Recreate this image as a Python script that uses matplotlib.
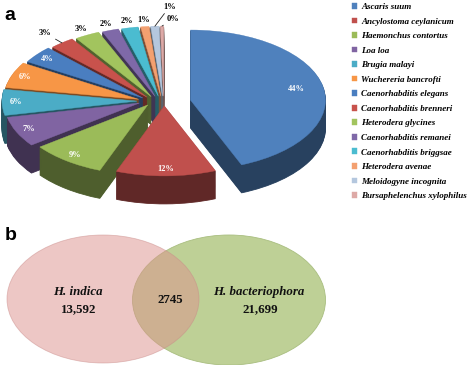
import matplotlib
matplotlib.use('Agg')
import matplotlib.pyplot as plt
import numpy as np
from matplotlib.patches import Ellipse
from matplotlib.colors import to_rgb
from matplotlib.font_manager import FontProperties

# ---------------- data ----------------
species = ['Ascaris suum', 'Ancylostoma ceylanicum', 'Haemonchus contortus',
           'Loa loa', 'Brugia malayi', 'Wuchereria bancrofti',
           'Caenorhabditis elegans', 'Caenorhabditis brenneri',
           'Heterodera glycines', 'Caenorhabditis remanei',
           'Caenorhabditis briggsae', 'Heterodera avenae',
           'Meloidogyne incognita', 'Bursaphelenchus xylophilus']
shares = [44, 12, 9, 7, 6, 6, 4, 3, 3, 2, 2, 1, 1, 0.4]
slice_colors = ['#4F81BD', '#C0504D', '#9BBB59', '#8064A2', '#4BACC6', '#F79646',
                '#4A7EC0', '#C8524C', '#A2C45E', '#7F69A8', '#4BBCD0', '#F3A070',
                '#B4C7DE', '#DDA9A6']
venn_names = ['H. indica', 'H. bacteriophora']
venn_only = [13592, 21699]
venn_shared = 2745

W, H = 472, 365
fig = plt.figure(figsize=(W / 100, H / 100), dpi=100)

# ---------------- panel a: pseudo-3D exploded pie ----------------
rx, ry = 135.0, 70.0          # px per data unit
hub_x, hub_y = 164.0, 101.0   # px (from top-left)
ax_w, ax_h = 340.0, 215.0
ax = fig.add_axes([0, 1 - ax_h / H, ax_w / W, ax_h / H])
explode = [0.2] * len(shares)
y_explode_factor = 0.35       # foreshortening of the explode offset in the tilted view
depth = 28.0 / ry
nlayers = 30
dark = [tuple(0.5 * c for c in to_rgb(col)) for col in slice_colors]


def draw_layer(cols, base_y, lw):
    ws, _ = ax.pie(shares, explode=explode, colors=cols, startangle=90, counterclock=False,
                   center=(0, base_y), wedgeprops=dict(linewidth=lw))
    for w in ws:
        cx, cy = w.center
        w.set_center((cx, base_y + (cy - base_y) * y_explode_factor))
        w.set_edgecolor(w.get_facecolor())
    return ws


for d in np.linspace(depth, 0.0, nlayers, endpoint=False):
    draw_layer(dark, -d, 0.6)
wedges = draw_layer(slice_colors, 0.0, 0.3)

ax.set_aspect('auto')
ax.set_xlim(-hub_x / rx, (ax_w - hub_x) / rx)
ax.set_ylim(-(ax_h - hub_y) / ry, hub_y / ry)
ax.axis('off')

total = sum(shares)
pct_font = dict(family='Liberation Serif', weight='bold', fontsize=6)
for i, w in enumerate(wedges):
    pct = int(round(shares[i] / total * 100))
    lab = f'{pct}%'
    th = np.deg2rad((w.theta1 + w.theta2) / 2)
    cx, cy = w.center
    dx, dy = np.cos(th), np.sin(th)
    if pct >= 4:
        r = 0.8 if pct > 20 else 0.9
        ax.text(cx + r * dx, cy + r * dy, lab, color='white', ha='center', va='center', **pct_font)
    else:
        edge = (cx + 1.0 * dx, cy + 1.0 * dy)
        if i == 7:
            ax.annotate(lab, xy=edge, xytext=(-12, 7), textcoords='offset points',
                        ha='center', va='center', color='black',
                        arrowprops=dict(arrowstyle='-', lw=0.6, color='#222222',
                                        shrinkA=1, shrinkB=0), **pct_font)
        elif i == len(wedges) - 2:
            ax.annotate(lab, xy=edge, xytext=(6, 14), textcoords='offset points',
                        ha='left', va='center', color='black',
                        arrowprops=dict(arrowstyle='-', lw=0.6, color='#222222',
                                        shrinkA=0, shrinkB=0), **pct_font)
        elif i == len(wedges) - 1:
            ax.annotate(lab, xy=edge, xytext=(3, 5), textcoords='offset points',
                        ha='left', va='center', color='black',
                        arrowprops=dict(arrowstyle='-', lw=0.6, color='#222222',
                                        shrinkA=0, shrinkB=0), **pct_font)
        else:
            r = 1.1
            ax.text(cx + r * dx, cy + r * dy, lab, color='black', ha='center', va='center', **pct_font)

leg_font = FontProperties(family='Liberation Serif', weight='bold', style='italic', size=6.5)
fig.legend(wedges, species, loc='upper left', bbox_to_anchor=(352 / W, 1 - 3 / H),
           frameon=False, prop=leg_font, handlelength=0.6, handleheight=0.6,
           handletextpad=0.4, labelspacing=0.72, borderaxespad=0, borderpad=0)

# ---------------- panel b: Venn ----------------
ax2 = fig.add_axes([0, 0, 1, 1], zorder=-1)
ax2.set_xlim(0, W)
ax2.set_ylim(H, 0)
ax2.axis('off')
ax2.add_patch(Ellipse((229, 300), 193, 130, facecolor='#BED096', edgecolor='#A9BE80', lw=0.6))
ax2.add_patch(Ellipse((103, 299), 192, 128, facecolor='#DD918D', alpha=0.5,
                      edgecolor='#C98A88', lw=0.6))
vfont_i = dict(family='Liberation Serif', weight='bold', style='italic', fontsize=9.3, color='#111111')
vfont = dict(family='Liberation Serif', weight='bold', fontsize=9.3, color='#111111')
ax2.text(78, 292, venn_names[0], ha='center', va='center', **vfont_i)
ax2.text(79, 309, f'{venn_only[0]:,}', ha='center', va='center', **vfont)
ax2.text(259, 292, venn_names[1], ha='center', va='center', **vfont_i)
ax2.text(260, 309, f'{venn_only[1]:,}', ha='center', va='center', **vfont)
ax2.text(170, 300, f'{venn_shared}', ha='center', va='center', **vfont)

# panel letters
fig.text(10 / W, 1 - 16 / H, 'a', family='Liberation Sans', weight='bold', fontsize=14,
         ha='center', va='center')
fig.text(11 / W, 1 - 235 / H, 'b', family='Liberation Sans', weight='bold', fontsize=14,
         ha='center', va='center')

fig.savefig('out.png', dpi=100)
